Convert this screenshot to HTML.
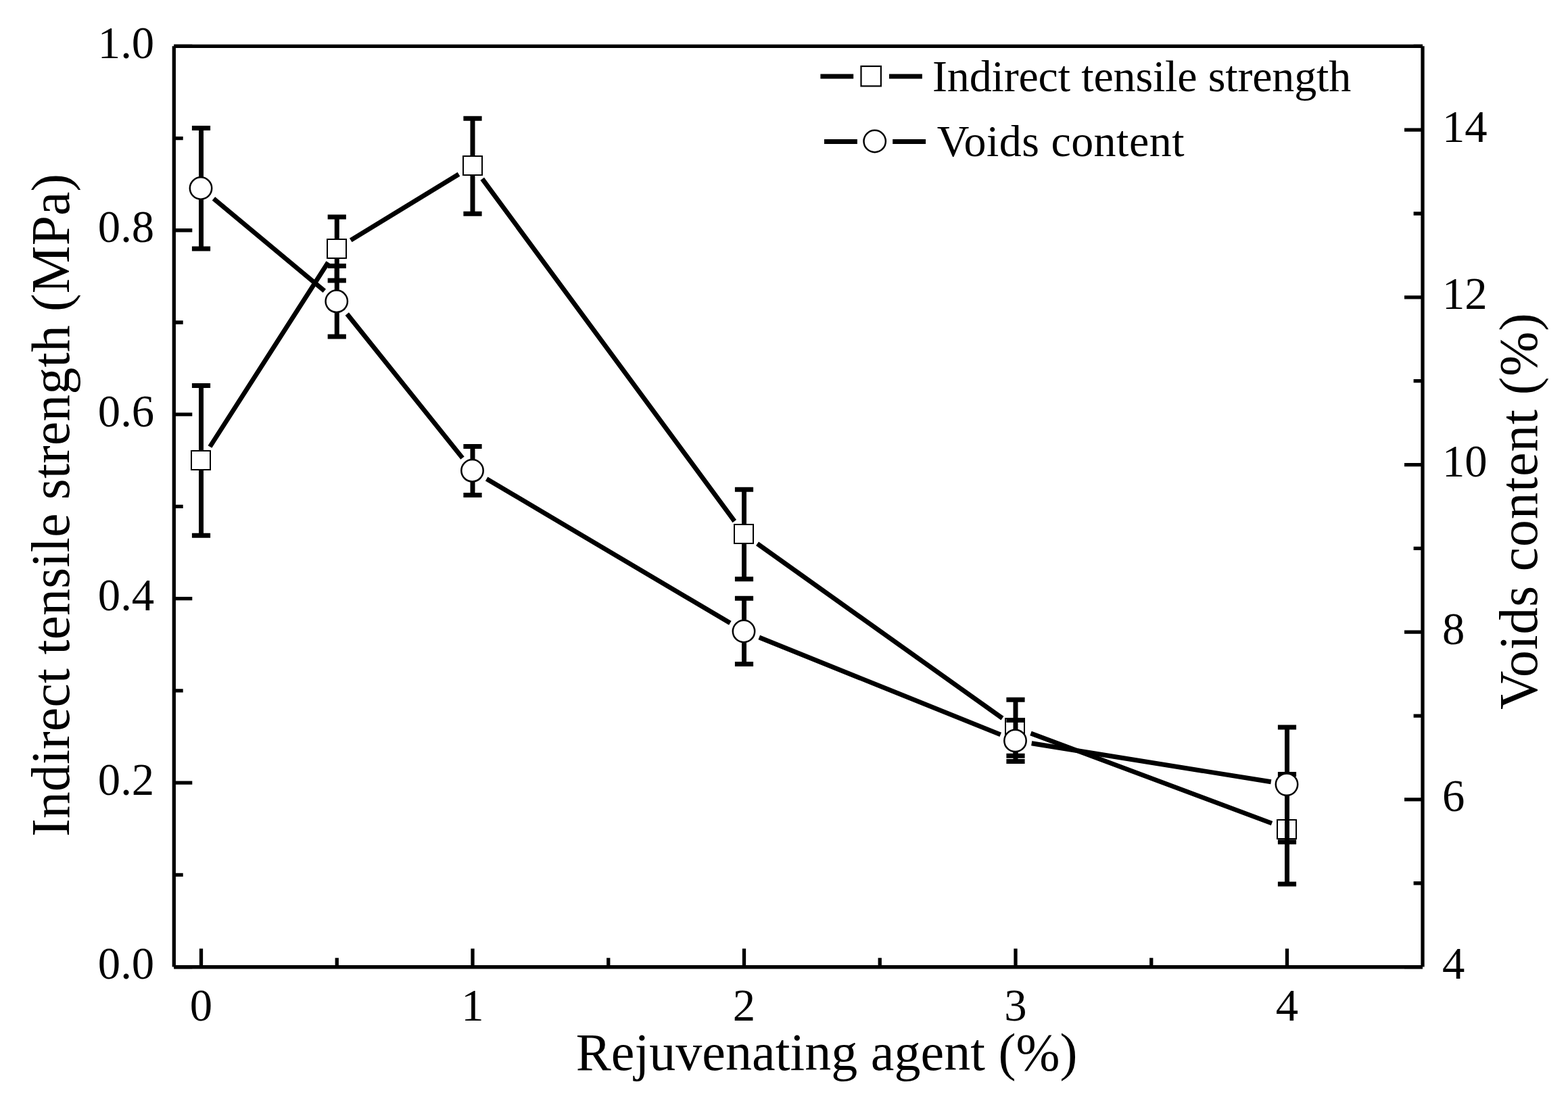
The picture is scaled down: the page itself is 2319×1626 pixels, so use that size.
<!DOCTYPE html><html><head><meta charset="utf-8"><style>html,body{margin:0;padding:0;background:#fff;}svg{display:block;}text{font-family:"Liberation Serif","Times New Roman",serif;fill:#000;}</style></head><body>
<svg width="2319" height="1626" viewBox="0 0 2319 1626">
<rect width="2319" height="1626" fill="#fff"/>
<path d="M257.3 68.3V1430.6M2104.0 68.3V1430.6M257.3 68.3H2104.0" fill="none" stroke="#000" stroke-width="5.3" stroke-linecap="butt"/>
<path d="M257.3 1430.72H2104.0" fill="none" stroke="#000" stroke-width="5.55"/>
<path d="M257.30 1430.60H284.30M257.30 1294.37H270.70M257.30 1158.14H284.30M257.30 1021.91H270.70M257.30 885.68H284.30M257.30 749.45H270.70M257.30 613.22H284.30M257.30 476.99H270.70M257.30 340.76H284.30M257.30 204.53H270.70M257.30 68.30H284.30M2104.00 1430.60H2077.00M2104.00 1306.75H2090.60M2104.00 1182.91H2077.00M2104.00 1059.06H2090.60M2104.00 935.22H2077.00M2104.00 811.37H2090.60M2104.00 687.53H2077.00M2104.00 563.68H2090.60M2104.00 439.84H2077.00M2104.00 315.99H2090.60M2104.00 192.15H2077.00M2104.00 68.30H2090.60M297.50 1430.60V1403.60M498.25 1430.60V1417.20M699.00 1430.60V1403.60M899.75 1430.60V1417.20M1100.50 1430.60V1403.60M1301.25 1430.60V1417.20M1502.00 1430.60V1403.60M1702.75 1430.60V1417.20M1903.50 1430.60V1403.60" stroke="#000" stroke-width="5.3" fill="none"/>
<text x="228.2" y="1448.20" font-size="66.7" text-anchor="end">0.0</text>
<text x="228.2" y="1175.74" font-size="66.7" text-anchor="end">0.2</text>
<text x="228.2" y="903.28" font-size="66.7" text-anchor="end">0.4</text>
<text x="228.2" y="630.82" font-size="66.7" text-anchor="end">0.6</text>
<text x="228.2" y="358.36" font-size="66.7" text-anchor="end">0.8</text>
<text x="228.2" y="85.90" font-size="66.7" text-anchor="end">1.0</text>
<text x="2133" y="1448.10" font-size="66.7">4</text>
<text x="2133" y="1200.41" font-size="66.7">6</text>
<text x="2133" y="952.72" font-size="66.7">8</text>
<text x="2133" y="705.03" font-size="66.7">10</text>
<text x="2133" y="457.34" font-size="66.7">12</text>
<text x="2133" y="209.65" font-size="66.7">14</text>
<text x="297.50" y="1510" font-size="66.7" text-anchor="middle">0</text>
<text x="699.00" y="1510" font-size="66.7" text-anchor="middle">1</text>
<text x="1100.50" y="1510" font-size="66.7" text-anchor="middle">2</text>
<text x="1502.00" y="1510" font-size="66.7" text-anchor="middle">3</text>
<text x="1903.50" y="1510" font-size="66.7" text-anchor="middle">4</text>
<text x="851.75" y="1582.9" font-size="78.0" textLength="741.77" lengthAdjust="spacing">Rejuvenating agent (%)</text>
<text transform="translate(101.8 0) rotate(-90)" x="-1237.77" y="0" font-size="79.5" textLength="980.87" lengthAdjust="spacing">Indirect tensile strength (MPa)</text>
<text transform="translate(2273 0) rotate(-90)" x="-1050.09" y="0" font-size="79.5" textLength="586.89" lengthAdjust="spacing">Voids content (%)</text>
<path d="M310.45 660.99L485.30 388.11M518.73 355.39L678.52 257.81M713.23 264.62L1086.27 771.08M1120.04 804.33L1482.46 1062.67M1524.48 1084.99L1881.02 1218.11" stroke="#000" stroke-width="6.9" fill="none" stroke-linecap="butt"/>
<path d="M297.50 570.40V792.30M283.90 570.40H311.10M283.90 792.30H311.10M498.25 321.00V415.10M484.65 321.00H511.85M484.65 415.10H511.85M699.00 175.30V316.30M685.40 175.30H712.60M685.40 316.30H712.60M1100.50 724.30V856.70M1086.90 724.30H1114.10M1086.90 856.70H1114.10M1502.00 1035.20V1118.30M1488.40 1035.20H1515.60M1488.40 1118.30H1515.60M1903.50 1145.40V1307.90M1889.90 1145.40H1917.10M1889.90 1307.90H1917.10" stroke="#000" stroke-width="7.0" fill="none" stroke-linecap="butt"/>
<rect x="283" y="667" width="28" height="28" fill="#fff" stroke="#000" stroke-width="2"/>
<rect x="484" y="354" width="28" height="28" fill="#fff" stroke="#000" stroke-width="2"/>
<rect x="685" y="231" width="28" height="28" fill="#fff" stroke="#000" stroke-width="2"/>
<rect x="1086" y="776" width="28" height="28" fill="#fff" stroke="#000" stroke-width="2"/>
<rect x="1487" y="1063" width="28" height="28" fill="#fff" stroke="#000" stroke-width="2"/>
<rect x="1889" y="1213" width="28" height="28" fill="#fff" stroke="#000" stroke-width="2"/>
<path d="M315.94 293.86L479.81 430.44M513.26 464.53L683.99 677.57M719.65 708.53L1079.85 921.77M1122.76 942.98L1479.74 1086.92M1525.69 1099.72L1879.81 1156.78" stroke="#000" stroke-width="6.9" fill="none" stroke-linecap="butt"/>
<path d="M297.50 189.40V368.00M283.90 189.40H311.10M283.90 368.00H311.10M498.25 393.40V498.00M484.65 393.40H511.85M484.65 498.00H511.85M699.00 660.50V732.50M685.40 660.50H712.60M685.40 732.50H712.60M1100.50 885.30V982.40M1086.90 885.30H1114.10M1086.90 982.40H1114.10M1502.00 1065.40V1126.40M1488.40 1065.40H1515.60M1488.40 1126.40H1515.60M1903.50 1075.90V1245.70M1889.90 1075.90H1917.10M1889.90 1245.70H1917.10" stroke="#000" stroke-width="7.0" fill="none" stroke-linecap="butt"/>
<circle cx="297.00" cy="278.50" r="16.2" fill="#fff" stroke="#000" stroke-width="2.5"/>
<circle cx="497.75" cy="445.80" r="16.2" fill="#fff" stroke="#000" stroke-width="2.5"/>
<circle cx="698.50" cy="696.30" r="16.2" fill="#fff" stroke="#000" stroke-width="2.5"/>
<circle cx="1100.00" cy="934.00" r="16.2" fill="#fff" stroke="#000" stroke-width="2.5"/>
<circle cx="1501.50" cy="1095.90" r="16.2" fill="#fff" stroke="#000" stroke-width="2.5"/>
<circle cx="1903.00" cy="1160.60" r="16.2" fill="#fff" stroke="#000" stroke-width="2.5"/>
<path d="M1213.4 113.1H1262.2M1315 113.1H1363.9M1219 209.5H1267.9M1320.2 209.5H1369.1" stroke="#000" stroke-width="7" fill="none"/>
<rect x="1273.50" y="98.00" width="29.4" height="29.4" fill="#fff" stroke="#000" stroke-width="2.2"/>
<circle cx="1293.7" cy="209" r="16.2" fill="#fff" stroke="#000" stroke-width="2.5"/>
<text x="1379.02" y="134.9" font-size="66.0" textLength="619.15" lengthAdjust="spacing">Indirect tensile strength</text>
<text x="1385.86" y="230.9" font-size="66.0" textLength="365.63" lengthAdjust="spacing">Voids content</text>
</svg></body></html>
